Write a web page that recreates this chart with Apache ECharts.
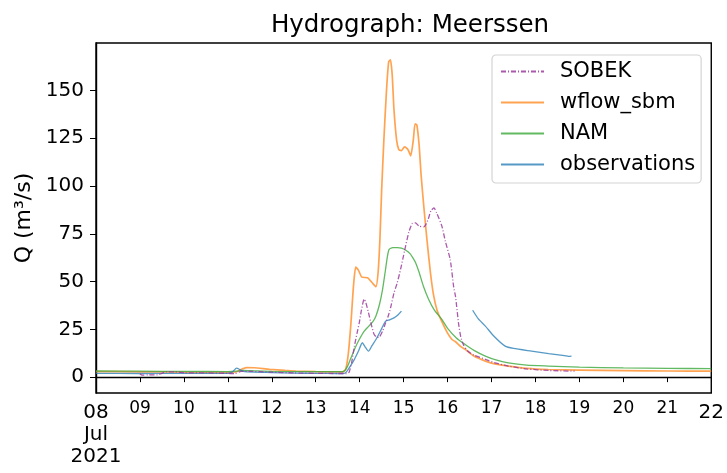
<!DOCTYPE html>
<html>
<head>
<meta charset="utf-8">
<script src="https://cdn.jsdelivr.net/npm/echarts@6/dist/echarts.min.js"></script>
<style>html,body{margin:0;padding:0;background:#fff}#c{width:727px;height:473px}</style>
</head>
<body>
<div id="c"></div>
<script>
// Day of July 2021 (decimal) and discharge Q (m3/s)
const xTicks = [8,9,10,11,12,13,14,15,16,17,18,19,20,21,22];
const yTicks = [0,25,50,75,100,125,150];

const sobekDays = [9.0,9.05,9.2,9.4,9.5,9.6,9.8,10.0,10.5,11.0,11.15,11.3,11.5,12.0,12.5,13.0,13.5,13.7,13.76,13.82,13.88,13.94,13.99,14.04,14.10,14.14,14.20,14.27,14.33,14.40,14.45,14.52,14.59,14.65,14.70,14.78,14.85,14.93,15.02,15.12,15.20,15.27,15.35,15.46,15.55,15.62,15.69,15.75,15.87,15.95,16.06,16.14,16.18,16.25,16.30,16.36,16.45,16.6,16.86,17.1,17.38,17.8,18.3,18.89];
const sobekQ    = [1.8,1.0,1.2,1.2,2.0,2.8,2.8,2.3,2.2,2.0,1.8,3.0,3.0,2.6,2.2,2.0,1.9,1.9,2.6,8,16.2,23,28.4,35,40.8,39,33.7,27,22.3,20.8,21,24,28.4,32,36,44,49,56.3,66,76,80.5,80.7,79,78.6,82,87,88.5,86,79,71,61.5,47,42.3,28,21,17,13.8,11.5,9.3,7.3,5.8,4.3,3.5,3.1];

const wflowDays = [8.0,9.0,10.0,11.0,11.2,11.3,11.42,11.6,11.95,12.3,12.55,13.0,13.5,13.62,13.68,13.74,13.80,13.86,13.91,13.97,14.05,14.18,14.28,14.37,14.42,14.46,14.50,14.55,14.61,14.66,14.70,14.74,14.78,14.84,14.89,14.95,15.02,15.10,15.16,15.22,15.26,15.30,15.35,15.40,15.46,15.53,15.61,15.68,15.76,15.87,16.0,16.10,16.18,16.3,16.40,16.6,16.86,17.1,17.38,17.8,18.29,19.0,20.0,21.0,22.0];
const wflowQ    = [2.9,2.8,2.6,2.5,2.8,4.0,5.0,4.9,4.1,3.5,3.2,2.9,2.7,2.7,4,12,28,48,57.5,56,52.3,52,49.5,47.3,55,72,98,124,150,165,166,158,140,124,119,118.5,120.5,119,115.8,124,132.5,132,122,105,89,72,54.6,43,35,29,23,19.7,18.5,16,14.5,11,8.4,6.8,5.8,4.6,4.0,3.7,3.4,3.2,3.1];

const namDays = [8.0,9.0,10.0,11.0,11.2,11.35,11.6,12.0,13.0,13.6,13.66,13.72,13.80,13.90,13.99,14.1,14.21,14.3,14.37,14.45,14.52,14.58,14.63,14.67,14.75,14.86,14.95,15.05,15.15,15.22,15.27,15.35,15.45,15.57,15.7,15.87,16.0,16.2,16.4,16.6,16.86,17.1,17.38,17.8,18.29,19.0,20.0,21.0,22.0];
const namQ    = [3.2,3.1,3.0,2.9,3.1,3.5,3.3,3.0,2.9,2.9,3.5,5.5,10,15.5,19.7,24,26.7,29,32,38,45.8,55,63,66.8,67.8,67.8,67.5,66.4,64.5,62,60,55,47.5,40.6,35,30.2,25.5,20.5,17.1,14,11,9.0,7.5,6.3,5.8,5.2,4.8,4.6,4.4];

const obsDays = [8.0,9.0,10.0,11.0,11.1,11.2,11.27,11.35,11.6,12.0,12.5,13.0,13.5,13.62,13.69,13.78,13.88,13.97,14.06,14.12,14.20,14.28,14.37,14.47,14.59,14.68,14.78,14.87,14.95,15.8,16.57,16.7,16.86,17.05,17.31,17.5,17.91,18.3,18.66,18.75,18.82];
const obsQ    = [2.0,1.9,2.0,2.0,2.6,4.7,4.0,3.0,2.6,2.4,2.1,2.0,1.9,1.9,2.5,5.5,9.3,13.5,18,16,13.6,16.5,19.7,24,29.3,30,31,32.5,34.5,null,35,30.5,26.7,21.5,16.2,15.0,13.6,12.3,11.3,10.9,11.0];

const pair = (d, q) => d.map((x, i) => [x, q[i] === null ? '-' : q[i]]);
const FONT = 'DejaVu Sans';

const chart = echarts.init(document.getElementById('c'), null, {renderer: 'canvas'});
chart.setOption({
  animation: false,
  backgroundColor: '#fff',
  title: {
    text: 'Hydrograph: Meerssen',
    left: 405, top: 8, textAlign: 'center',
    textStyle: {fontFamily: FONT, fontSize: 24.5, fontWeight: 'normal', color: '#000'}
  },
  grid: {left: 96, right: 13, top: 43, bottom: 80, show: true, borderColor: '#000', borderWidth: 1.4, backgroundColor: 'transparent'},
  legend: {
    orient: 'vertical', left: 492, top: 55,
    data: ['SOBEK', 'wflow_sbm', 'NAM', 'observations'],
    itemWidth: 43, itemHeight: 14, itemGap: 10,
    padding: [6, 6, 8, 8],
    itemStyle: {opacity: 0, color: 'rgba(0,0,0,0)', borderWidth: 0},
    backgroundColor: 'rgba(255,255,255,0.8)', borderColor: '#d4d4d4', borderWidth: 1.2, borderRadius: 4,
    textStyle: {fontFamily: FONT, fontSize: 21, color: '#000', width: 138, overflow: 'none', padding: [0, 0, 0, 11]}
  },
  xAxis: {
    type: 'value', min: 8, max: 22, interval: 1,
    axisLine: {show: true, lineStyle: {color: '#000', width: 1.4}},
    splitLine: {show: false},
    axisLabel: {
      margin: 6, fontFamily: FONT, fontSize: 17, color: '#000', lineHeight: 20,
      customValues: xTicks,
      formatter: v => {
        const s = String(v).padStart(2, '0');
        if (v === 8) return '{b|' + s + '}\n{b|Jul}\n{b|2021}';
        if (v === 22) return '{b|' + s + '}';
        return s;
      },
      rich: {b: {fontFamily: FONT, fontSize: 20, lineHeight: 22, color: '#000', padding: [5, 0, 0, 0]}}
    },
    axisTick: {show: true, length: 5, lineStyle: {color: '#000', width: 1}, customValues: xTicks}
  },
  yAxis: {
    type: 'value', min: -8.3, max: 174.8,
    name: 'Q (m³/s)', nameLocation: 'middle', nameGap: 58, nameRotate: 90,
    nameTextStyle: {fontFamily: FONT, fontSize: 22, color: '#000'},
    axisLine: {show: true, lineStyle: {color: '#000', width: 1.4}},
    axisTick: {show: true, length: 6, lineStyle: {color: '#000', width: 1}, customValues: yTicks},
    splitLine: {show: false},
    axisLabel: {margin: 12, fontFamily: FONT, fontSize: 20, color: '#000', customValues: yTicks}
  },
  series: [
    {name: 'SOBEK', type: 'line', symbol: 'none', smooth: 0.2, z: 5,
     lineStyle: {color: '#9c3c9c', width: 1.3, opacity: 0.85, type: [5, 2, 1, 2]},
     itemStyle: {color: '#9c3c9c'},
     data: pair(sobekDays, sobekQ)},
    {name: 'wflow_sbm', type: 'line', symbol: 'none', smooth: 0.2, z: 3,
     lineStyle: {color: '#ff8c26', width: 1.7, opacity: 0.8},
     itemStyle: {color: '#ff9a45'},
     data: pair(wflowDays, wflowQ)},
    {name: 'NAM', type: 'line', symbol: 'none', smooth: 0.2, z: 4,
     lineStyle: {color: '#3aa83a', width: 1.3, opacity: 0.8},
     itemStyle: {color: '#5cb85c'},
     data: pair(namDays, namQ)},
    {name: 'observations', type: 'line', symbol: 'none', smooth: 0.2, z: 4, connectNulls: false,
     lineStyle: {color: '#2b7fb8', width: 1.3, opacity: 0.8},
     itemStyle: {color: '#4a93c6'},
     data: pair(obsDays, obsQ)}
  ]
});
</script>
</body>
</html>
